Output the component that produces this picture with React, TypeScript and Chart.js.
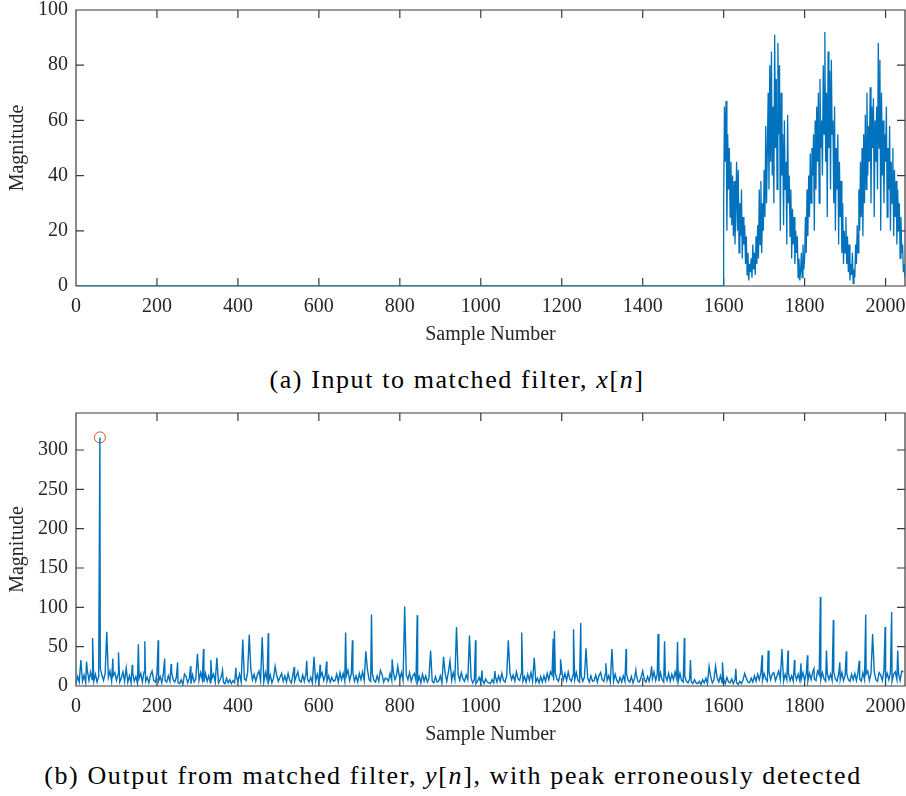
import React, { useEffect, useRef } from "react";
import { Chart, registerables } from "chart.js";

Chart.register(...registerables);

// ---------- data ----------
const X_MAX = 2048;
const xTickValues = [0, 200, 400, 600, 800, 1000, 1200, 1400, 1600, 1800, 2000];
const inputTickValues = [0, 20, 40, 60, 80, 100];
const outputTickValues = [0, 50, 100, 150, 200, 250, 300];
const INPUT_Y_MAX = 100;
const OUTPUT_Y_MAX = 347;

// input x[n]: zero until INPUT_START, then samples every INPUT_STEP
const INPUT_START = 1600;
const INPUT_STEP = 2;
const inputValues = [
  30, 65, 45, 67, 20, 55, 35, 50, 25, 45, 22,
  40, 18, 38, 15, 28, 45, 20, 42, 12, 30, 18, 35, 10, 25, 15,
  22, 8, 18, 4, 12, 2, 8, 5, 10, 3, 15, 6, 12, 4, 18,
  8, 22, 10, 35, 15, 38, 12, 30, 20, 42,
  25, 58, 30, 50, 70, 35, 80, 45, 85, 40, 65, 30, 91, 50, 75,
  35, 88, 55, 80, 20, 70, 40, 55, 22, 60, 35, 45, 15, 62, 30,
  40, 18, 35, 10, 28, 15, 25, 8, 20, 12, 18, 3, 10, 2, 5,
  12, 3, 15, 6, 10, 25, 12, 35, 18, 40,
  25, 48, 30, 50, 40, 55, 20, 60, 35, 65, 45, 70, 30, 75, 50,
  60, 40, 80, 55, 92, 45, 70, 25, 85, 50, 78, 35, 82, 55, 60,
  30, 65, 20, 50, 35, 55, 15, 45, 25, 38, 12, 30, 8, 20, 12,
  25, 8, 18, 5, 15, 2, 8, 4, 12, 1, 6, 3, 15, 8, 22,
  12, 35, 20, 45, 25, 50, 18, 55, 30, 62, 35, 70, 40, 58, 45,
  72, 30, 65, 50, 68, 25, 60, 45, 65, 35, 88, 50, 82, 20, 70,
  40, 60, 30, 55, 45, 65, 25, 50, 35, 58, 20, 45, 30, 50, 18,
  42, 25, 38, 15, 35, 20, 30, 10, 25, 12, 15, 5, 8, 3,
];

// output y[n]: background level every OUTPUT_STEP samples
const OUTPUT_STEP = 4;
const outputNoise = [
  3, 12, 5, 16, 6, 14, 4, 20, 7, 18, 8, 6, 15, 5, 12, 22, 14, 7, 16, 5, 11, 19, 6, 13, 17, 7, 15, 5, 10, 18, 6, 12,
  5, 13, 4, 17, 6, 12, 3, 10, 16, 5, 18, 6, 11, 4, 14, 19, 7, 5, 15, 6, 12, 4, 17, 7, 5, 13, 6, 18, 8, 5, 11, 4,
  3, 8, 2, 7, 12, 4, 10, 3, 14, 5, 9, 15, 7, 17, 8, 5, 16, 6, 13, 4, 10, 15, 5, 12, 4, 8, 14, 5, 3, 10, 4, 8,
  3, 7, 4, 12, 6, 15, 5, 18, 9, 7, 17, 6, 21, 8, 15, 6, 14, 19, 7, 13, 5, 17, 8, 6, 14, 4, 10, 5, 13, 6, 11, 4,
  6, 13, 5, 16, 7, 4, 15, 6, 12, 18, 7, 5, 14, 6, 16, 8, 5, 11, 4, 13, 6, 15, 5, 12, 17, 7, 14, 6, 13, 5, 11, 6,
  7, 15, 5, 18, 8, 16, 6, 13, 20, 7, 15, 17, 6, 13, 5, 16, 8, 18, 7, 14, 21, 8, 6, 16, 7, 5, 13, 6, 12, 15, 5, 10,
  9, 6, 16, 7, 18, 8, 14, 21, 9, 17, 7, 19, 14, 8, 17, 6, 13, 16, 7, 5, 12, 4, 15, 6, 13, 5, 10, 16, 6, 4, 12, 5,
  6, 13, 4, 12, 16, 6, 18, 9, 7, 17, 8, 5, 15, 7, 17, 9, 6, 14, 8, 5, 10, 4, 8, 3, 6, 11, 4, 8, 3, 9, 5, 4,
  3, 8, 4, 12, 5, 13, 6, 16, 7, 5, 13, 6, 17, 8, 14, 6, 18, 9, 7, 16, 6, 12, 5, 15, 7, 17, 6, 13, 5, 10, 4, 12,
  5, 13, 6, 16, 8, 18, 14, 7, 17, 9, 6, 15, 19, 8, 16, 7, 18, 9, 6, 14, 8, 17, 7, 5, 13, 6, 11, 4, 10, 5, 13, 6,
  7, 14, 5, 13, 17, 8, 6, 16, 7, 13, 5, 12, 6, 15, 7, 4, 11, 5, 13, 6, 16, 7, 5, 12, 4, 10, 15, 6, 5, 11, 4, 8,
  5, 12, 6, 16, 9, 18, 7, 15, 6, 17, 8, 5, 13, 7, 16, 6, 15, 8, 18, 9, 6, 16, 7, 5, 12, 6, 4, 9, 5, 3, 8, 4,
  3, 6, 2, 8, 4, 10, 3, 7, 12, 4, 8, 3, 10, 5, 13, 4, 8, 3, 11, 5, 4, 9, 3, 8, 4, 2, 6, 3, 8, 4, 10, 5,
  4, 10, 5, 13, 6, 15, 8, 17, 7, 16, 9, 6, 18, 8, 15, 17, 7, 13, 19, 8, 16, 6, 15, 8, 17, 7, 13, 6, 16, 8, 15, 7,
  9, 17, 7, 15, 6, 16, 8, 18, 9, 7, 19, 14, 8, 17, 9, 6, 16, 8, 15, 7, 18, 9, 6, 15, 8, 17, 7, 13, 16, 8, 6, 15,
  8, 16, 7, 18, 9, 6, 17, 8, 15, 19, 7, 16, 9, 18, 8, 6, 17, 14, 7, 20, 9, 16, 8, 17, 6, 15, 18, 8, 16, 7, 19, 18,
];

// sidelobe / peak samples of y[n]
const peakSamples = [
  12, 26, 41, 59, 76, 91, 105, 124, 139, 154, 170, 203, 219, 235, 251, 268, 283, 300, 315, 333,
  348, 362, 395, 412, 428, 460, 475, 492, 508, 524, 539, 570, 588, 603, 619, 652, 666, 683, 716, 730,
  752, 781, 795, 812, 843, 876, 908, 924, 940, 972, 987, 1003, 1035, 1068, 1101, 1132, 1179, 1182, 1197, 1229,
  1247, 1260, 1309, 1324, 1359, 1383, 1400, 1422, 1438, 1454, 1486, 1503, 1518, 1564, 1580, 1597, 1630, 1652, 1695, 1710,
  1744, 1759, 1775, 1791, 1807, 1823, 1839, 1854, 1871, 1887, 1903, 1935, 1951, 1968, 1999, 2015, 2030,
];
const peakValues = [
  33, 31, 61, 316, 69, 35, 43, 23, 27, 53, 57, 58, 35, 28, 30, 15, 25, 41, 47, 33,
  36, 20, 23, 59, 65, 62, 67, 25, 16, 16, 24, 32, 37, 27, 31, 17, 68, 58, 44, 91,
  20, 34, 25, 101, 90, 45, 37, 32, 75, 64, 58, 20, 19, 58, 68, 36, 60, 70, 34, 72,
  80, 48, 29, 47, 47, 20, 19, 25, 66, 57, 56, 61, 33, 25, 25, 30, 22, 16, 39, 45,
  47, 45, 33, 29, 39, 22, 113, 45, 84, 30, 44, 32, 91, 66, 75, 94, 45,
];

const detectedSample = 59;
const detectedValue = 316;

// ---------- style ----------
const LINE_BLUE = "#0072BD";
const MARK_ORANGE = "#D95319";
const AXIS_COLOR = "#262626";
const FONT_FAMILY = "'Liberation Serif', 'Times New Roman', serif";
const TICK_FONT_SIZE = 20;
const CANVAS_W = 906;
const CANVAS_H = 350;

const boxPlugin = {
  id: "matlabBox",
  beforeDatasetsDraw(chart: any, _args: any, opts: any) {
    const { ctx, chartArea, scales } = chart;
    const { left, right, top, bottom } = chartArea;
    const xs = scales.x;
    const ys = scales.y;
    const len = 8;
    ctx.save();
    ctx.strokeStyle = "#3a3a3a";
    ctx.lineWidth = 1.2;
    ctx.beginPath();
    ctx.rect(left, top, right - left, bottom - top);
    for (const t of opts.xTicks as number[]) {
      const px = xs.getPixelForValue(t);
      ctx.moveTo(px, bottom);
      ctx.lineTo(px, bottom - len);
      ctx.moveTo(px, top);
      ctx.lineTo(px, top + len);
    }
    for (const t of opts.yTicks as number[]) {
      const py = ys.getPixelForValue(t);
      ctx.moveTo(left, py);
      ctx.lineTo(left + len, py);
      ctx.moveTo(right, py);
      ctx.lineTo(right - len, py);
    }
    ctx.stroke();
    ctx.restore();
  },
};

function makeOptions(yMax: number, yTicks: number[], padTop: number): any {
  return {
    animation: false,
    responsive: false,
    maintainAspectRatio: false,
    layout: { autoPadding: false, padding: { top: padTop, right: 1, left: 0, bottom: 0 } },
    plugins: {
      legend: { display: false },
      tooltip: { enabled: false },
      matlabBox: { xTicks: xTickValues, yTicks },
    },
    scales: {
      x: {
        type: "linear",
        min: 0,
        max: X_MAX,
        grid: { display: false, drawTicks: false },
        border: { display: false },
        afterBuildTicks: (s: any) => {
          s.ticks = xTickValues.map((v) => ({ value: v }));
        },
        afterFit: (s: any) => {
          s.height = 64;
          s.paddingLeft = 0;
          s.paddingRight = 0;
        },
        ticks: {
          padding: 9,
          color: AXIS_COLOR,
          font: { family: FONT_FAMILY, size: TICK_FONT_SIZE },
          maxRotation: 0,
          autoSkip: false,
          callback: (v: any) => String(v),
        },
        title: {
          display: true,
          text: "Sample Number",
          color: AXIS_COLOR,
          font: { family: FONT_FAMILY, size: TICK_FONT_SIZE },
          padding: { top: 0, bottom: 3 },
        },
      },
      y: {
        type: "linear",
        min: 0,
        max: yMax,
        grid: { display: false, drawTicks: false },
        border: { display: false },
        afterBuildTicks: (s: any) => {
          s.ticks = yTicks.map((v) => ({ value: v }));
        },
        afterFit: (s: any) => {
          s.width = 76;
          s.paddingTop = 0;
          s.paddingBottom = 0;
        },
        ticks: {
          padding: 8,
          color: AXIS_COLOR,
          font: { family: FONT_FAMILY, size: TICK_FONT_SIZE },
          autoSkip: false,
          callback: (v: any) => String(v),
        },
        title: {
          display: true,
          text: "Magnitude",
          color: AXIS_COLOR,
          font: { family: FONT_FAMILY, size: TICK_FONT_SIZE },
          padding: { top: 6, bottom: 0 },
        },
      },
    },
  };
}

function buildInputPoints() {
  const pts: { x: number; y: number }[] = [
    { x: 0, y: 0 },
    { x: INPUT_START - 1, y: 0 },
  ];
  inputValues.forEach((v, i) => pts.push({ x: INPUT_START + i * INPUT_STEP, y: v }));
  return pts;
}

function buildOutputPoints() {
  const m = new Map<number, number>();
  outputNoise.forEach((v, i) => m.set(i * OUTPUT_STEP, v));
  peakSamples.forEach((s, i) => m.set(s, peakValues[i]));
  return Array.from(m.entries())
    .sort((a, b) => a[0] - b[0])
    .map(([x, y]) => ({ x, y }));
}

function TopChart() {
  const ref = useRef<HTMLCanvasElement | null>(null);
  useEffect(() => {
    if (!ref.current) return;
    const chart = new Chart(ref.current, {
      type: "line",
      data: {
        datasets: [
          {
            data: buildInputPoints(),
            borderColor: LINE_BLUE,
            borderWidth: 1.3,
            pointRadius: 0,
            tension: 0,
            fill: false,
          },
        ],
      },
      options: makeOptions(INPUT_Y_MAX, inputTickValues, 10),
      plugins: [boxPlugin],
    } as any);
    return () => chart.destroy();
  }, []);
  return (
    <canvas
      ref={ref}
      width={CANVAS_W}
      height={CANVAS_H}
      style={{ position: "absolute", left: 0, top: 0, width: CANVAS_W, height: CANVAS_H }}
    />
  );
}

function BottomChart() {
  const ref = useRef<HTMLCanvasElement | null>(null);
  useEffect(() => {
    if (!ref.current) return;
    const chart = new Chart(ref.current, {
      type: "line",
      data: {
        datasets: [
          {
            data: buildOutputPoints(),
            borderColor: LINE_BLUE,
            borderWidth: 1.4,
            pointRadius: 0,
            tension: 0,
            fill: false,
          },
          {
            type: "scatter",
            data: [{ x: detectedSample, y: detectedValue }],
            borderColor: MARK_ORANGE,
            backgroundColor: "rgba(0,0,0,0)",
            borderWidth: 1,
            pointRadius: 5.5,
            pointStyle: "circle",
            showLine: false,
          },
        ],
      },
      options: makeOptions(OUTPUT_Y_MAX, outputTickValues, 13),
      plugins: [boxPlugin],
    } as any);
    return () => chart.destroy();
  }, []);
  return (
    <canvas
      ref={ref}
      width={CANVAS_W}
      height={CANVAS_H}
      style={{ position: "absolute", left: 0, top: 400, width: CANVAS_W, height: CANVAS_H }}
    />
  );
}

const captionStyle: React.CSSProperties = {
  position: "absolute",
  left: 0,
  width: CANVAS_W,
  textAlign: "center",
  fontFamily: "Liberation Serif, serif",
  fontSize: 26,
  letterSpacing: "1.6px",
  lineHeight: "28px",
  color: "#000",
  whiteSpace: "nowrap",
};

export default function App() {
  useEffect(() => {
    document.body.style.margin = "0";
  }, []);
  return (
    <div style={{ position: "relative", width: CANVAS_W, height: 796, background: "#fff", overflow: "hidden" }}>
      <TopChart />
      <div style={{ ...captionStyle, top: 366, left: 4 }}>
        (a) Input to matched filter, <i>x</i>[<i>n</i>]
      </div>
      <BottomChart />
      <div style={{ ...captionStyle, top: 762, left: 0 }}>
        (b) Output from matched filter, <i>y</i>[<i>n</i>], with peak erroneously detected
      </div>
    </div>
  );
}
